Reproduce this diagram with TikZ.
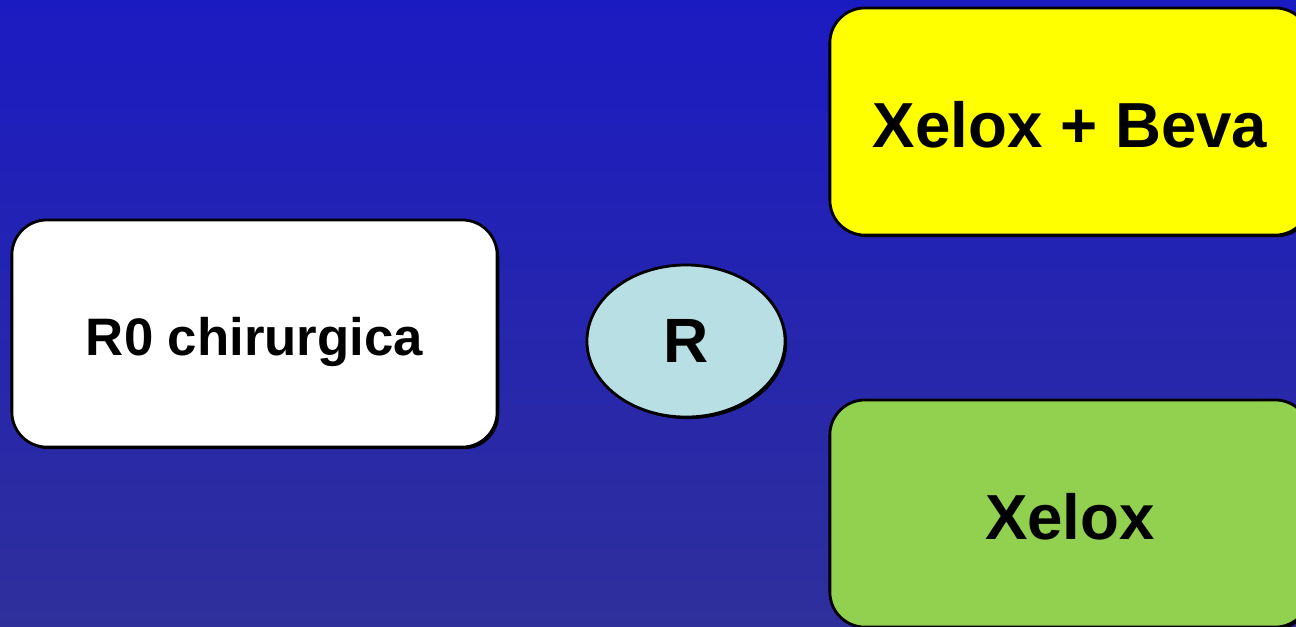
\documentclass[tikz,border=0pt]{standalone}
\usepackage{fontspec}
\setmainfont{Liberation Sans}
\usetikzlibrary{positioning}
\usetikzlibrary{shapes.geometric}
\usetikzlibrary{shadows}
\definecolor{bgtop}{RGB}{27,27,194}
\definecolor{bgbot}{RGB}{47,47,156}
\definecolor{cellR}{RGB}{184,224,228}
\definecolor{cellA}{RGB}{255,255,0}
\definecolor{cellB}{RGB}{146,208,80}
\tikzset{
	armbox/.style={draw=black, line width=0.8pt, rounded corners=0.35cm,
		minimum width=4.8cm, minimum height=2.27cm, inner sep=0pt,
		text height=0.52cm, text depth=0pt,
		font=\fontsize{18.1}{21}\selectfont\bfseries,
		drop shadow={shadow xshift=0.6pt, shadow yshift=-0.6pt, fill=black, opacity=1}},
	randnode/.style={draw=black, line width=0.8pt, ellipse, fill=cellR,
		minimum width=1.98cm, minimum height=1.52cm, inner sep=0pt,
		font=\fontsize{17.8}{20}\selectfont\bfseries,
		drop shadow={shadow xshift=0.6pt, shadow yshift=-0.6pt, fill=black, opacity=1}}
}
\begin{document}
\begin{tikzpicture}[x=0.01cm, y=-0.01cm]
		\shade[top color=bgtop, bottom color=bgbot] (0,0) rectangle (1296,626);
		\useasboundingbox (0,0) rectangle (1296,626);
		\node (surg) [armbox, minimum width=4.85cm, fill=white, text height=0.438cm,
			font=\fontsize{15}{18}\selectfont\bfseries] at (254.5,333.5) {R0 chirurgica};
		\node (rand) [randnode] at (686,341) {R};
		\node (armA) [armbox, fill=cellA] at (1070,121.5) {Xelox + Beva};
		\node (armB) [armbox, fill=cellB] at (1070,513.5) {Xelox};
\end{tikzpicture}
\end{document}
